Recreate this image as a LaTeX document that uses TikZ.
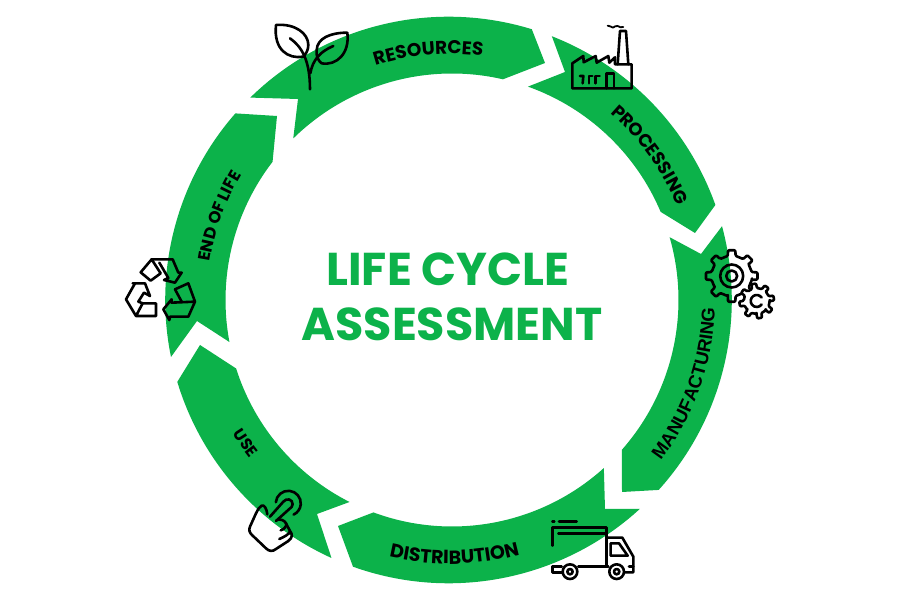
\documentclass[tikz,border=0pt]{standalone}
\usepackage{fontspec}
\setmainfont{Poppins}
\newfontfamily\popb{Poppins}[UprightFont=*-Bold]
\newfontfamily\arib{Liberation Sans}[UprightFont=* Bold]
\usetikzlibrary{decorations.text}
\definecolor{lcagreen}{HTML}{0CB24A}
\tikzset{
  seg/.style={fill=lcagreen,draw=none},
  icon/.style={draw=black,line width=2.6pt,line cap=round,line join=round},
  zoomed/.style={x=.3333pt,y=-.3333pt},
}
\newcommand{\arctext}[6]{% radius, start, end, font size, font, text
  \path[decorate,decoration={text along path,text align=center,
    text={|#5\fontsize{#4}{#4}\selectfont|#6}}]
    ([shift={(#2:#1)}]L) arc[start angle=#2,end angle=#3,radius=#1];}
\newcommand{\gearpath}[3]{% outer radius, root radius, fill
  \draw[icon,fill=#3,rounded corners=1pt]
    (-4:#2) \foreach \a in {0,45,...,315} {
      -- (\a-11:#2) -- (\a-8:#1) -- (\a+8:#1) -- (\a+11:#2) -- (\a+34:#2)
    } -- cycle;}
\begin{document}
\begin{tikzpicture}[x=1pt,y=1pt]
\useasboundingbox (0,0) rectangle (900,600);
\fill[white] (0,0) rectangle (900,600);
\coordinate (O) at (448.5,300);
\coordinate (I) at (452,300);
\coordinate (L) at (450,300);
% segments
\fill[seg] ([shift={(134.4:283.3)}]O) arc[start angle=134.4,end angle=72.9,radius=283.3] -- (545,537) -- ([shift={(77:226.5)}]I) arc[start angle=77,end angle=134.5,radius=226.5] -- (298,501) -- cycle;
\fill[seg] ([shift={(68.6:283.3)}]O) arc[start angle=68.6,end angle=19.6,radius=283.3] -- (695,367) -- ([shift={(22.9:226.5)}]I) arc[start angle=22.9,end angle=70.4,radius=226.5] -- (565,528) -- cycle;
\fill[seg] ([shift={(15.1:283.3)}]O) arc[start angle=15.1,end angle=-42.1,radius=283.3] -- (622,108) -- ([shift={(-41.4:226.5)}]I) arc[start angle=-41.4,end angle=16.1,radius=226.5] -- (701,346) -- cycle;
\fill[seg] ([shift={(-47.5:283.3)}]O) arc[start angle=-47.5,end angle=-109.7,radius=283.3] -- (338,74) -- ([shift={(-110.3:226.5)}]I) arc[start angle=-110.3,end angle=-47.9,radius=226.5] -- (605,91) -- cycle;
\fill[seg] (200,255) -- ([shift={(197.6:226.5)}]I) arc[start angle=197.6,end angle=243.1,radius=226.5] -- (317,86) -- ([shift={(245.6:283.3)}]O) arc[start angle=245.6,end angle=196.8,radius=283.3] -- cycle;
\fill[seg] ([shift={(138.8:283.3)}]O) arc[start angle=138.8,end angle=191.6,radius=283.3] -- (197,279) -- ([shift={(190.7:226.5)}]I) arc[start angle=190.7,end angle=142.4,radius=226.5] -- (277,484) -- cycle;
% labels
\arctext{246}{120}{70}{18.5}{\popb}{RESOURCES}
\arctext{246}{62}{10}{18}{\popb}{PROCESSING}
\arctext{265}{-46}{7}{18.5}{\arib}{MANUFACTURING}
\arctext{264}{-116}{-62}{19}{\popb}{DISTRIBUTION}
\arctext{255}{198}{232}{16}{\popb}{USE}
\arctext{243}{188}{132}{16.5}{\popb}{END OF LIFE}
% title
\node[text=lcagreen,font=\popb\fontsize{46}{46}\selectfont] (t1) at (448,331) {LIFE CYCLE};
\node[text=lcagreen,font=\popb\fontsize{46}{46}\selectfont] (t2) at (452,276) {ASSESSMENT};
% plant
\begin{scope}[shift={(240,590)},zoomed]
\draw[icon] (108,45) .. controls (165,40) and (205,70) .. (205,105) .. controls (205,120) and (198,132) .. (190,140) .. controls (145,148) and (100,120) .. (108,45) -- cycle;
\draw[icon] (150,85) .. controls (185,110) and (210,150) .. (210,238);
\draw[icon] (322,68) .. controls (270,68) and (232,85) .. (230,120) .. controls (228,140) and (235,152) .. (245,160) .. controls (290,168) and (330,130) .. (322,68) -- cycle;
\draw[icon] (280,108) .. controls (240,125) and (218,150) .. (211,190);
\end{scope}
% factory
\begin{scope}[shift={(565,580)},zoomed]
\draw[icon] (150,133) -- (200,133) -- (200,205) -- (22,205) -- (22,130) -- (55,108) -- (56,127) -- (92,108) -- (95,128) -- (130,108) -- (133,128) -- (150,112) -- (150,133);
\draw[icon] (158,133) -- (165,33) -- (183,33) -- (190,133);
\draw[icon] (125,205) -- (125,160) -- (147,160) -- (147,205);
\draw[icon] (45,168) -- (55,168) -- (53,190);
\draw[icon] (72,190) -- (72,168) -- (82,168);
\draw[icon] (92,190) -- (92,168) -- (104,168);
\draw[icon,line width=1.8pt] (128,17) .. controls (134,14) and (138,24) .. (144,23) .. controls (150,22) and (150,15) .. (158,18) .. controls (164,21) and (168,24) .. (175,21);
\end{scope}
% gears
\begin{scope}[shift={(731.7,324)}]
\gearpath{26}{20.5}{none}
\draw[icon] (0,0) circle (11.5);
\draw[icon] (0,0) circle (5.5);
\end{scope}
\begin{scope}[shift={(756.7,299)},rotate=10]
\gearpath{17.5}{13}{white}
\end{scope}
\draw[icon] ([shift={(35:6)}]756.7,299) arc[start angle=35,end angle=325,radius=6];
% truck
\begin{scope}[shift={(545,85)},zoomed]
\draw[icon] (22,92) -- (22,38) -- (185,38) -- (185,155);
\draw[icon] (22,20) -- (28,20);
\draw[icon] (42,20) -- (95,20);
\draw[icon] (40,55) -- (185,55);
\draw[icon] (22,155) -- (50,155);
\draw[icon] (22,155) -- (22,172) -- (50,172);
\draw[icon] (100,155) -- (190,155);
\draw[icon] (75,170) circle (22);
\draw[icon] (75,170) circle (8);
\draw[icon] (215,170) circle (22);
\draw[icon] (215,170) circle (8);
\draw[icon] (185,68) -- (232,68) -- (265,125) -- (265,172) -- (240,172);
\draw[icon] (197,85) -- (222,85) -- (248,122) -- (197,122) -- cycle;
\draw[icon] (252,155) -- (265,155);
\end{scope}
% hand
\draw[icon] ([shift={(175:12.5)}]288.3,96.7) arc[start angle=175,end angle=-65,radius=12.5];
\begin{scope}[shift={(240,115)},zoomed]
\draw[icon] (82,88) .. controls (80,70) and (72,58) .. (65,62) .. controls (58,65) and (55,72) .. (48,85) -- (30,125) .. controls (26,135) and (28,142) .. (36,150) -- (78,190) .. controls (88,200) and (98,200) .. (108,192) -- (145,168) .. controls (158,158) and (158,148) .. (150,138) -- (138,115) .. controls (134,106) and (122,102) .. (112,104);
\draw[icon] (90,95) -- (130,50) .. controls (140,38) and (158,42) .. (158,58) .. controls (158,66) and (152,68) .. (148,72) -- (108,108);
\draw[icon] (138,115) .. controls (142,122) and (132,134) .. (122,136);
\draw[icon] (150,138) .. controls (152,146) and (128,158) .. (118,162);
\end{scope}
% recycle
\begin{scope}[shift={(120,350)},zoomed]
\draw[icon] (62,67) -- (95,28) -- (122,70) -- (92,92) -- cycle;
\draw[icon] (95,28) -- (158,28) -- (175,68) -- (185,68) -- (165,98) -- (132,90) -- (145,84) -- (118,38);
\draw[icon] (165,118) -- (205,100) -- (225,155) -- (205,200) -- (150,200) -- (148,210) -- (130,178) -- (155,148) -- (155,158) -- (225,155);
\draw[icon] (165,118) -- (185,155);
\draw[icon] (38,100) -- (75,100) -- (90,138) -- (72,128) -- (55,155) -- (68,160);
\draw[icon] (45,100) -- (18,148) -- (48,198) -- (108,198) -- (108,160) -- (68,160) -- (48,198);
\end{scope}
\end{tikzpicture}
\end{document}
